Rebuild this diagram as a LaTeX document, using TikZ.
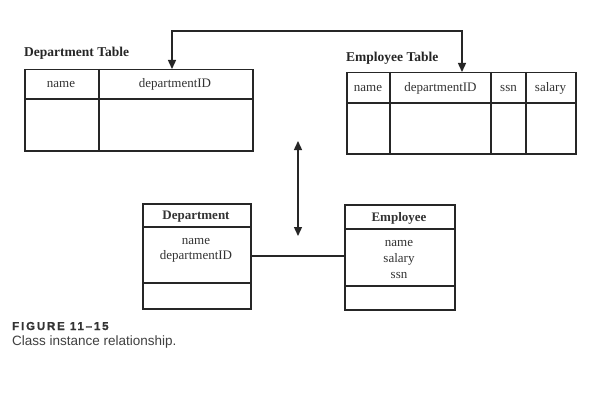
\documentclass[tikz,border=0pt]{standalone}
\usepackage{fontspec}
\setmainfont{Liberation Serif}
\newfontfamily\capfont{Liberation Sans}
\newfontfamily\capheavy[FakeBold=1.2,LetterSpace=16]{Liberation Sans Bold}
\usetikzlibrary{arrows.meta}
\begin{document}
\begin{tikzpicture}[x=1pt,y=-1pt,
  frame/.style={draw=black!85,line width=1.5pt},
  rule/.style={draw=black!85,line width=1.4pt},
  cell/.style={font=\fontsize{13}{15}\selectfont,text=black!80,inner sep=0pt,anchor=base},
  title/.style={font=\fontsize{13.5}{15}\selectfont\bfseries,text=black!85,inner sep=0pt,anchor=base west},
  arr/.style={draw=black!85,line width=1.4pt,-{Triangle[length=9pt,width=8pt]}},
  darr/.style={draw=black!85,line width=1.4pt,{Triangle[length=9pt,width=8pt]}-{Triangle[length=9pt,width=8pt]}},
  box/.style={frame,anchor=north west,inner sep=0pt}]
\useasboundingbox (0,0) rectangle (616,396);
\fill[white] (0,0) rectangle (616,396);

% Department table
\node[title] (dtTitle) at (24,57) {Department Table};
\node[box,minimum width=228pt,minimum height=81pt] (dt) at (24,69) {};
\draw[rule] (24,99) -- (252,99);
\draw[rule] (99,69) -- (99,150);
\node[cell] (dtName) at (61,88) {name};
\node[cell] (dtDept) at (175,88) {departmentID};

% Employee table
\node[title] (etTitle) at (346,61.5) {Employee Table};
\node[box,minimum width=229pt,minimum height=81pt] (et) at (346,72) {};
\draw[rule] (346,103) -- (575,103);
\draw[rule] (390,72) -- (390,153);
\draw[rule] (491,72) -- (491,153);
\draw[rule] (526,72) -- (526,153);
\node[cell] (etName) at (368,91.5) {name};
\node[cell] (etDept) at (440.5,91.5) {departmentID};
\node[cell] (etSsn) at (508.5,91.5) {ssn};
\node[cell] (etSal) at (550.5,91.5) {salary};

% foreign key link between the tables
\coordinate (dtIn) at ([xshift=148pt]dt.north west);
\coordinate (etIn) at ([xshift=116pt]et.north west);
\draw[arr] (etIn |- 0,31) -| (dtIn);
\draw[arr] (dtIn |- 0,31) -| (etIn);

% mapping between tables and classes
\coordinate (mapTop) at (298,141);
\coordinate (mapBot) at (298,236);
\draw[darr] (mapTop) -- (mapBot);

% Department class
\node[box,minimum width=108pt,minimum height=105pt] (dc) at (142,203) {};
\draw[rule] (142,227) -- (250,227);
\draw[rule] (142,283) -- (250,283);
\node[cell,font=\fontsize{13}{15}\selectfont\bfseries] (dcTitle) at (196,219) {Department};
\node[cell] (dcA1) at (196,244) {name};
\node[cell] (dcA2) at (196,259.5) {departmentID};

% Employee class
\node[box,minimum width=110pt,minimum height=105pt] (ec) at (344,204) {};
\draw[rule] (344,229) -- (454,229);
\draw[rule] (344,286) -- (454,286);
\node[cell,font=\fontsize{13}{15}\selectfont\bfseries] (ecTitle) at (399,221) {Employee};
\node[cell] (ecA1) at (399,246) {name};
\node[cell] (ecA2) at (399,262) {salary};
\node[cell] (ecA3) at (399,278) {ssn};

% association
\draw[rule] (dc.east |- 0,256) -- (ec.west |- 0,256);

% caption
\node[anchor=base west,inner sep=0pt,text=black!80,font=\capheavy\fontsize{11.5}{14}\selectfont] (figNum) at (12,330) {FIGURE 11–15};
\node[anchor=base west,inner sep=0pt,text=black!75,font=\capfont\fontsize{13.5}{15}\selectfont] (figCap) at (12,345) {Class instance relationship.};
\end{tikzpicture}
\end{document}
